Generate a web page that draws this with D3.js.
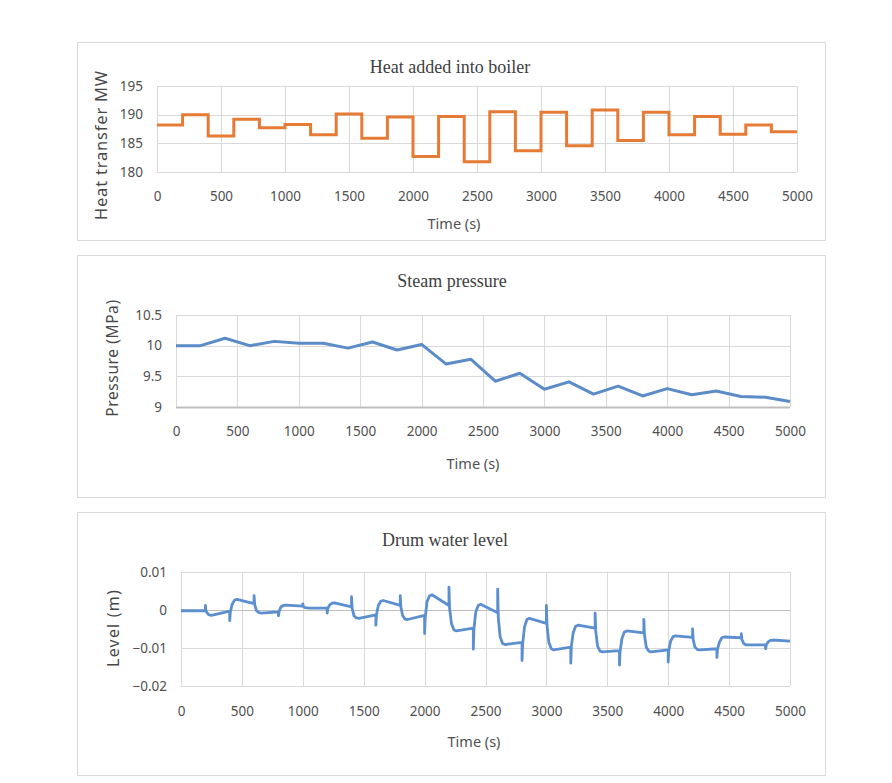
<!DOCTYPE html>
<html><head><meta charset="utf-8">
<script src="https://cdn.jsdelivr.net/npm/d3@7"></script>
<style>
body{margin:0;background:#fff;}
svg{display:block;}
.tick text{fill:#505050;font-family:"Noto Sans",sans-serif;font-size:13.5px;}
</style></head>
<body><svg id="c" width="892" height="783"></svg>
<script>
// ---- data ----
const timeTicks = [0,500,1000,1500,2000,2500,3000,3500,4000,4500,5000];
// Heat added into boiler: step values, each held for 200 s
const heatStepStart = [0,200,400,600,800,1000,1200,1400,1600,1800,2000,2200,2400,2600,2800,3000,3200,3400,3600,3800,4000,4200,4400,4600,4800];
const heatValue = [188.2,190.0,186.3,189.2,187.7,188.3,186.5,190.1,185.9,189.6,182.7,189.7,181.8,190.5,183.7,190.4,184.6,190.8,185.5,190.4,186.5,189.7,186.6,188.2,187.0];
const heatTicks = [180,185,190,195];
// Steam pressure
const pressTime = [0,200,400,600,800,1000,1200,1400,1600,1800,2000,2200,2400,2600,2800,3000,3200,3400,3600,3800,4000,4200,4400,4600,4800,5000];
const pressValue = [10.0,10.0,10.12,10.0,10.07,10.04,10.04,9.96,10.06,9.93,10.02,9.70,9.78,9.42,9.55,9.29,9.41,9.21,9.34,9.18,9.30,9.20,9.26,9.17,9.16,9.09];
const pressTicks = [9,9.5,10,10.5];
// Drum water level
const drumTime = [0,200,
 200,205,225,250,400,
 400,405,420,440,460,600,
 600,605,620,640,660,800,
 800,805,820,840,860,1000,
 1000,1005,1020,1050,1200,
 1200,1205,1220,1240,1260,1400,
 1400,1405,1420,1440,1460,1600,
 1600,1605,1620,1640,1660,1800,
 1800,1805,1820,1840,1860,2000,
 2000,2005,2020,2040,2060,2200,
 2200,2205,2220,2240,2260,2400,
 2400,2405,2420,2440,2460,2600,
 2600,2605,2620,2640,2660,2800,
 2800,2805,2820,2840,2860,3000,
 3000,3005,3020,3040,3060,3200,
 3200,3205,3220,3240,3260,3400,
 3400,3405,3420,3440,3460,3600,
 3600,3605,3620,3640,3660,3800,
 3800,3805,3820,3840,3860,4000,
 4000,4005,4020,4040,4060,4200,
 4200,4205,4220,4240,4260,4400,
 4400,4405,4420,4440,4460,4600,
 4600,4605,4620,4640,4660,4800,
 4800,4805,4820,4840,4860,5000];
const drumLevel = [-0.0002,-0.0002,
 0.0012,-0.0003,-0.0012,-0.0014,-0.0003,
 -0.0028,-0.0005,0.0015,0.0026,0.0028,0.0017,
 0.0038,0.0015,-0.0002,-0.0007,-0.0008,-0.0005,
 -0.0015,-0.0004,0.0008,0.0012,0.0013,0.0010,
 0.0016,0.0009,0.0006,0.0005,0.0005,
 -0.0008,0.0004,0.0013,0.0018,0.0019,0.0008,
 0.0035,0.0005,-0.0015,-0.0021,-0.0022,-0.0013,
 -0.0040,-0.0012,0.0012,0.0023,0.0025,0.0012,
 0.0038,0.0008,-0.0015,-0.0024,-0.0025,-0.0014,
 -0.0062,-0.0020,0.0022,0.0037,0.0040,0.0012,
 0.0060,0.0005,-0.0035,-0.0052,-0.0055,-0.0048,
 -0.0103,-0.0050,-0.0005,0.0012,0.0015,-0.0007,
 0.0055,-0.0020,-0.0070,-0.0088,-0.0091,-0.0085,
 -0.0133,-0.0090,-0.0045,-0.0025,-0.0022,-0.0035,
 0.0012,-0.0040,-0.0085,-0.0102,-0.0105,-0.0098,
 -0.0140,-0.0095,-0.0060,-0.0043,-0.0040,-0.0048,
 -0.0008,-0.0055,-0.0095,-0.0108,-0.0110,-0.0107,
 -0.0145,-0.0110,-0.0075,-0.0058,-0.0055,-0.0060,
 -0.0025,-0.0065,-0.0098,-0.0108,-0.0110,-0.0105,
 -0.0137,-0.0105,-0.0082,-0.0070,-0.0068,-0.0072,
 -0.0050,-0.0078,-0.0098,-0.0104,-0.0105,-0.0102,
 -0.0125,-0.0102,-0.0085,-0.0073,-0.0071,-0.0073,
 -0.0062,-0.0078,-0.0088,-0.0092,-0.0092,-0.0092,
 -0.0102,-0.0092,-0.0084,-0.0080,-0.0079,-0.0082];
const drumTicks = [-0.02,-0.01,0,0.01];

const svg = d3.select("#c");

function panel(cfg){
  const g = svg.append("g");
  g.append("rect").attr("x",cfg.box[0]+0.5).attr("y",cfg.box[1]+0.5)
    .attr("width",cfg.box[2]-cfg.box[0]).attr("height",cfg.box[3]-cfg.box[1])
    .attr("fill","#fff").attr("stroke","#d9d9d9");
  const x = d3.scaleLinear().domain([0,5000]).range([cfg.px0,cfg.px1]);
  const y = d3.scaleLinear().domain(cfg.ydom).range([cfg.pyb,cfg.pyt]);
  // grid
  g.append("g").selectAll("line").data(timeTicks).join("line")
    .attr("x1",d=>Math.round(x(d))+0.5).attr("x2",d=>Math.round(x(d))+0.5)
    .attr("y1",cfg.pyt).attr("y2",cfg.pyb).attr("stroke","#d9d9d9").attr("stroke-width",1);
  g.append("g").selectAll("line").data(cfg.yticks).join("line")
    .attr("x1",cfg.px0).attr("x2",cfg.px1)
    .attr("y1",d=>Math.round(y(d))+0.5).attr("y2",d=>Math.round(y(d))+0.5)
    .attr("stroke",d=>(cfg.zeroDark&&d===0)?"#bfbfbf":(d===cfg.ydom[0]&&cfg.baseDark?"#bfbfbf":"#d9d9d9"))
    .attr("stroke-width",d=>(d===cfg.ydom[0]&&cfg.baseDark)?2:1);
  // axes (labels only)
  const xa = g.append("g").attr("transform",`translate(0,${cfg.pyb})`)
    .call(d3.axisBottom(x).tickValues(timeTicks).tickSize(0).tickPadding(cfg.xpad).tickFormat(d3.format("d")));
  xa.select(".domain").remove();
  const ya = g.append("g").attr("transform",`translate(${cfg.px0},0)`)
    .call(d3.axisLeft(y).tickValues(cfg.yticks).tickSize(0).tickPadding(cfg.ypad).tickFormat(cfg.yfmt));
  ya.select(".domain").remove();
  // titles
  g.append("text").attr("x",cfg.title[0]).attr("y",cfg.title[1]).attr("text-anchor","middle")
    .attr("font-family","'Liberation Serif',serif").attr("font-size",18).attr("fill","#404040").text(cfg.title[2]);
  g.append("text").attr("x",cfg.xt[0]).attr("y",cfg.xt[1]).attr("text-anchor","middle")
    .attr("font-family","'Noto Sans',sans-serif").attr("font-size",14.5).attr("fill","#505050").text("Time (s)");
  g.append("text").attr("transform",`translate(${cfg.yt[0]},${cfg.yt[1]}) rotate(-90)`).attr("text-anchor","middle")
    .attr("font-family","'Noto Sans',sans-serif").attr("font-size",cfg.ytSize).attr("fill","#484848")
    .attr("letter-spacing",cfg.ytSpacing||0).text(cfg.yt[2]);
  return {g,x,y};
}

// Panel 1: heat
const p1 = panel({box:[77,42,825,240],px0:157,px1:797,pyt:86,pyb:172,ydom:[180,195],yticks:heatTicks,
  yfmt:d3.format("d"),xpad:19,ypad:14,title:[450,73,"Heat added into boiler"],xt:[454,229],
  yt:[107,145,"Heat transfer MW"],ytSize:16.5,ytSpacing:0.8});
const heatPts = heatStepStart.map((t,i)=>[t,heatValue[i]]);
heatPts.push([5000,heatValue[heatValue.length-1]]);
p1.g.append("path").datum(heatPts)
  .attr("d",d3.line().x(d=>p1.x(d[0])).y(d=>p1.y(d[1])).curve(d3.curveStepAfter))
  .attr("fill","none").attr("stroke","#E57B35").attr("stroke-width",3);

// Panel 2: pressure
const p2 = panel({box:[77,255,825,497],px0:176,px1:790,pyt:315,pyb:407,ydom:[9,10.5],yticks:pressTicks,
  yfmt:d=>d3.format("")(d),xpad:19,ypad:14,title:[452,287,"Steam pressure"],xt:[473,469],
  yt:[118,358,"Pressure (MPa)"],ytSize:15.5,ytSpacing:0.6,baseDark:true});
p2.g.append("path").datum(pressTime.map((t,i)=>[t,pressValue[i]]))
  .attr("d",d3.line().x(d=>p2.x(d[0])).y(d=>p2.y(d[1])))
  .attr("fill","none").attr("stroke","#5B8CC8").attr("stroke-width",3).attr("stroke-linejoin","round");

// Panel 3: drum level
const p3 = panel({box:[77,512,825,775],px0:181,px1:790,pyt:572,pyb:686,ydom:[-0.02,0.01],yticks:drumTicks,
  yfmt:d=>d3.format("")(+d.toFixed(2)),xpad:20,ypad:14,title:[445,546,"Drum water level"],xt:[474,747],
  yt:[119,628,"Level  (m)"],ytSize:16,ytSpacing:1.2,zeroDark:true});
p3.g.append("path").datum(drumTime.map((t,i)=>[t,drumLevel[i]]))
  .attr("d",d3.line().x(d=>p3.x(d[0])).y(d=>p3.y(d[1])).curve(d3.curveLinear))
  .attr("fill","none").attr("stroke","#5B8FD0").attr("stroke-width",2.8).attr("stroke-linejoin","round");
</script></body></html>
